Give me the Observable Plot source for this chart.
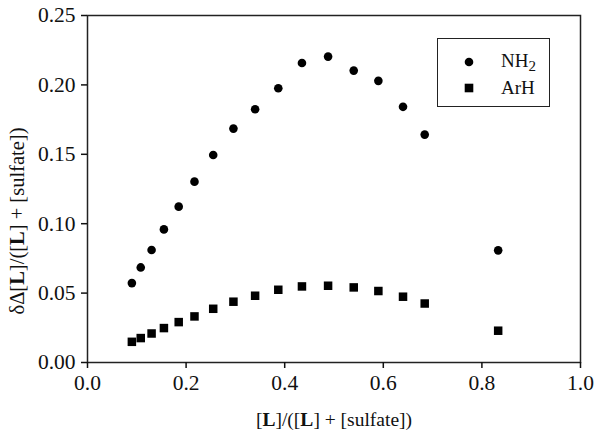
<!DOCTYPE html>
<html>
<head>
<meta charset="utf-8">
<script src="https://cdn.jsdelivr.net/npm/d3@7"></script>
<script src="https://cdn.jsdelivr.net/npm/@observablehq/plot@0.6"></script>
<style>
  html, body { margin: 0; padding: 0; background: white; }
  #wrap { position: relative; width: 602px; height: 436px; }
  #legend { position: absolute; left: 437px; top: 38px; width: 113px; height: 69px; border: 1px solid #222; box-sizing: border-box; font-family: "Liberation Serif", serif; font-size: 19px; color: #111; }
  #legend .sym { position: absolute; left: 26px; }
  #legend .lbl { position: absolute; left: 63px; white-space: nowrap; line-height: 20px; }
</style>
</head>
<body>
<div id="wrap"></div>
<script>
const ratio = [0.090, 0.108, 0.130, 0.155, 0.185, 0.217, 0.255, 0.296, 0.340, 0.387, 0.435, 0.488, 0.540, 0.590, 0.640, 0.684, 0.833];
const nh2 = [0.0572, 0.0685, 0.0810, 0.0959, 0.1123, 0.1303, 0.1495, 0.1685, 0.1825, 0.1976, 0.2158, 0.2204, 0.2103, 0.2029, 0.1842, 0.1642, 0.0808];
const arh = [0.0149, 0.0176, 0.0209, 0.0248, 0.0291, 0.0332, 0.0387, 0.0438, 0.0481, 0.0524, 0.0548, 0.0553, 0.0541, 0.0515, 0.0474, 0.0425, 0.0229];
const xTicks = [0, 0.2, 0.4, 0.6, 0.8, 1.0];
const yTicks = [0, 0.05, 0.10, 0.15, 0.20, 0.25];
const seriesNames = ["NH2", "ArH"];

const nh2Data = ratio.map((x, i) => ({x, y: nh2[i]}));
const arhData = ratio.map((x, i) => ({x, y: arh[i]}));

const chart = Plot.plot({
  width: 602,
  height: 436,
  marginLeft: 87,
  marginRight: 22,
  marginTop: 15,
  marginBottom: 74,
  style: {fontFamily: "'Liberation Serif', serif", fontSize: "21.5px", color: "#111", background: "white", overflow: "visible"},
  x: {domain: [0, 1], ticks: xTicks, tickFormat: d3.format(".1f")},
  y: {domain: [0, 0.25], ticks: yTicks, tickFormat: d3.format(".2f")},
  marks: [
    Plot.frame({stroke: "#222", strokeWidth: 1.5}),
    Plot.axisX({ticks: xTicks, tickSize: 6, tickPadding: 6, label: null, tickFormat: d3.format(".1f"), strokeWidth: 1.5}),
    Plot.axisY({ticks: yTicks, tickSize: 6, tickPadding: 6, label: null, tickFormat: d3.format(".2f"), strokeWidth: 1.5}),
    Plot.dot(nh2Data, {x: "x", y: "y", r: 4.3, fill: "black", stroke: "none", symbol: "circle"}),
    Plot.dot(arhData, {x: "x", y: "y", r: 4.8, fill: "black", stroke: "none", symbol: "square"}),
    Plot.text(["xtitle"], {frameAnchor: "bottom", dy: 63, text: d => d, fontSize: 19.5, className: "xtitle"}),
    Plot.text(["ytitle"], {frameAnchor: "left", textAnchor: "middle", dx: -70, dy: 32, rotate: -90, text: d => d, fontSize: 20.5, className: "ytitle"})
  ]
});

function fillTitle(sel, prefix) {
  const t = chart.querySelector(sel + " text");
  if (!t) return;
  t.textContent = "";
  const parts = [[prefix + "[", false], ["L", true], ["]/([", false], ["L", true], ["] + [sulfate])", false]];
  for (const [s, b] of parts) {
    const ts = document.createElementNS("http://www.w3.org/2000/svg", "tspan");
    ts.textContent = s;
    if (b) ts.setAttribute("font-weight", "bold");
    t.appendChild(ts);
  }
}
fillTitle(".xtitle", "");
fillTitle(".ytitle", "δΔ");

const wrap = document.getElementById("wrap");
wrap.appendChild(chart);

const legend = document.createElement("div");
legend.id = "legend";
legend.innerHTML = `
  <svg class="sym" style="top:18px" width="10" height="10"><circle cx="5" cy="5" r="4.3" fill="black"/></svg>
  <div class="lbl" style="top:12px">NH<sub style="font-size:15px;vertical-align:-4px;line-height:0">2</sub></div>
  <svg class="sym" style="top:44px" width="10" height="10"><rect x="0.7" y="0.7" width="8.6" height="8.6" fill="black"/></svg>
  <div class="lbl" style="top:39px">ArH</div>`;
wrap.appendChild(legend);
</script>
</body>
</html>
